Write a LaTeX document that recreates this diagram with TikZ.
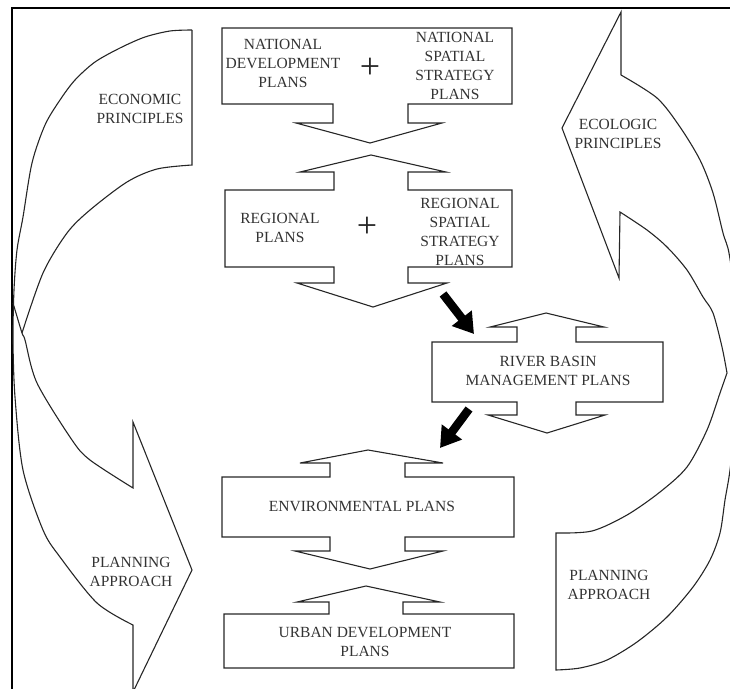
\documentclass[tikz,border=0pt]{standalone}
\usepackage{fontspec}
\setmainfont{Liberation Serif}
\usetikzlibrary{arrows.meta}

\begin{document}
\begin{tikzpicture}[
  x=1pt, y=-1pt,
  font=\fontsize{15.5}{19}\selectfont,
  outline/.style={draw=black!85, line width=1.1pt, line join=miter},
  lbl/.style={align=center, text=black!80, inner sep=0pt},
  plus/.style={font=\fontsize{36}{36}\selectfont, text=black!85, inner sep=0pt},
  flow/.style={-{Triangle[length=20pt, width=24pt]}, line width=8.5pt, black}
]
\clip (0,0) rectangle (730,688);
% frame
\draw[line width=2.5pt] (12,8) rectangle (745,700);
% national plans
\draw[outline] (222,28) -- (512,28) -- (512,104) -- (408,104) -- (408,123)
  -- (442,123) -- (370,143) -- (296,123) -- (333,123) -- (333,104)
  -- (222,104) -- cycle;
% regional plans
\draw[outline] (225,190) -- (334,190) -- (334,172) -- (300,172) -- (371,155)
  -- (446,172) -- (408,172) -- (408,190) -- (512,190) -- (512,267)
  -- (408,267) -- (408,283) -- (447,283) -- (373,307) -- (297,283)
  -- (334,283) -- (334,267) -- (225,267) -- cycle;
% river basin plans
\draw[outline] (432,342) -- (517,342) -- (517,327) -- (490,327) -- (546,313)
  -- (604,327) -- (576,327) -- (576,342) -- (663,342) -- (663,402)
  -- (576,402) -- (576,415) -- (605,415) -- (547,433) -- (488,415)
  -- (517,415) -- (517,402) -- (432,402) -- cycle;
% environmental plans
\draw[outline] (222,477) -- (330,477) -- (330,463) -- (300,463) -- (368,450)
  -- (443,463) -- (405,463) -- (405,477) -- (514,477) -- (514,537)
  -- (405,537) -- (405,551) -- (443,551) -- (370,569) -- (295,551)
  -- (330,551) -- (330,537) -- (222,537) -- cycle;
% urban development plans
\draw[outline] (224,614) -- (329,614) -- (329,602) -- (297,602) -- (366,586)
  -- (440,602) -- (403,602) -- (403,614) -- (514,614) -- (514,668)
  -- (224,668) -- cycle;
% left band: economic principles and planning approach
\draw[outline] (192,30) -- (192,165)
  -- plot[smooth] coordinates {(192,165) (157,169) (127,182) (90,210)
     (67,233) (43,273) (22,333)};
\draw[outline] plot[smooth] coordinates {(192,30) (170,31) (145,37)
     (120,48) (95,62) (75,80) (60,100) (45,125) (32,163) (23,217) (17,250)
     (14,290) (13,340) (15,397) (23,470) (43,530) (60,557) (97,603) (133,625)}
  -- (133,692) -- (192,570) -- (133,422) -- (133,488)
  -- plot[smooth] coordinates {(133,488) (90,460) (72,440) (37,383)
     (25,340) (22,333) (13,303)};
% right band: ecologic principles and planning approach
\draw[outline] (621,75) -- (621,12) -- (562,128) -- (619,278) -- (620,212)
  -- plot[smooth] coordinates {(620,212) (647,230) (667,247) (687,270)
     (703,297) (713,313) (722,347) (727,373)}
  -- plot[smooth] coordinates {(727,373) (720,393) (707,430) (687,467)
     (660,492) (627,515) (592,531) (556,533)}
  -- (556,670)
  -- plot[smooth] coordinates {(556,670) (580,668) (607,660) (637,642)
     (667,617) (693,587) (710,560) (720,533) (725,500) (730,470) (735,420)
     (737,360) (735,300) (729,253) (723,233) (713,193) (700,160) (680,127)
     (657,98) (621,75)};
% texts in the boxes
\node[lbl] (natdev) at (283,63) {NATIONAL\\DEVELOPMENT\\PLANS};
\node[plus] (plus1) at (370,68) {+};
\node[lbl] (natspat) at (455,66) {NATIONAL\\SPATIAL\\STRATEGY\\PLANS};
\node[lbl] (regpl) at (280,228) {REGIONAL\\PLANS};
\node[plus] (plus2) at (367,227) {+};
\node[lbl] (regspat) at (460,232) {REGIONAL\\SPATIAL\\STRATEGY\\PLANS};
\node[lbl] (river) at (548,371) {RIVER BASIN\\MANAGEMENT PLANS};
\node[lbl] (env) at (362,506) {ENVIRONMENTAL PLANS};
\node[lbl] (urban) at (365,642) {URBAN DEVELOPMENT\\PLANS};
% texts in the bands
\node[lbl] (econ) at (140,109) {ECONOMIC\\PRINCIPLES};
\node[lbl] (planl) at (131,572) {PLANNING\\APPROACH};
\node[lbl] (ecol) at (618,134) {ECOLOGIC\\PRINCIPLES};
\node[lbl] (planr) at (609,585) {PLANNING\\APPROACH};
% black arrows between the plans
\coordinate (reg out) at (443,294);
\coordinate (river in) at (474,334);
\coordinate (river out) at (469,409);
\coordinate (env in) at (440,448);
\draw[flow] (reg out) -- (river in);
\draw[flow] (river out) -- (env in);
\end{tikzpicture}
\end{document}
